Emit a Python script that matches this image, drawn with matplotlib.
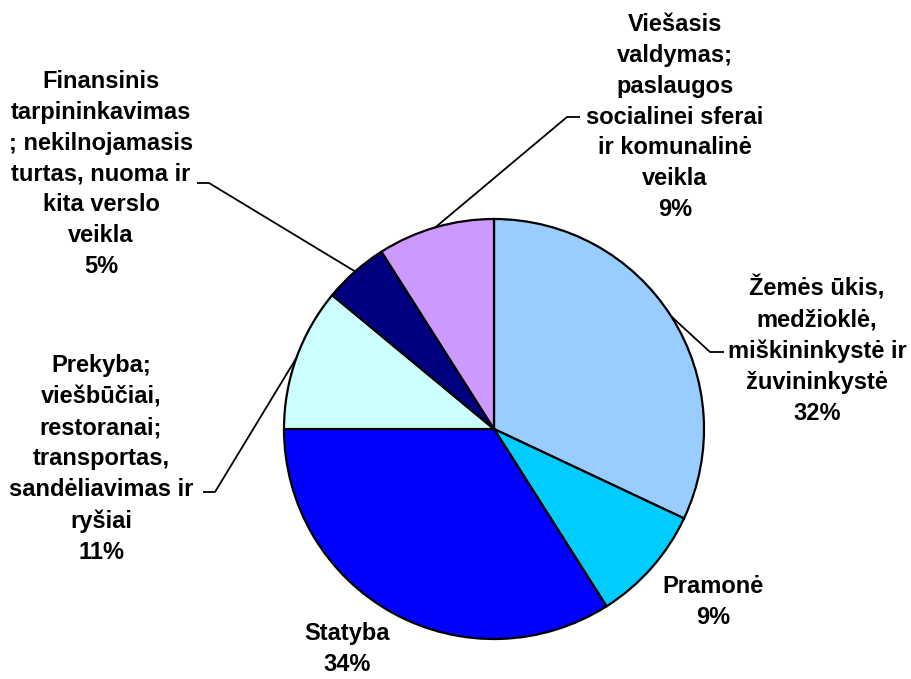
import numpy as np
import matplotlib.pyplot as plt

# Sector shares, clockwise from 12 o'clock
labels = [
    "Žemės ūkis,\nmedžioklė,\nmiškininkystė ir\nžuvininkystė",
    "Pramonė",
    "Statyba",
    "Prekyba;\nviešbūčiai,\nrestoranai;\ntransportas,\nsandėliavimas ir\nryšiai",
    "Finansinis\ntarpininkavimas\n; nekilnojamasis\nturtas, nuoma ir\nkita verslo\nveikla",
    "Viešasis\nvaldymas;\npaslaugos\nsocialinei sferai\nir komunalinė\nveikla",
]
values = [32, 9, 34, 11, 5, 9]
colors = ["#99CCFF", "#00CCFF", "#0000FF", "#CCFFFF", "#000080", "#CC99FF"]

W, H = 911, 679
cx, cy, R = 494, 429, 210  # pie centre and radius in pixels


def px(x, y):
    return (x - cx) / R, (cy - y) / R


fig = plt.figure(figsize=(W / 100, H / 100), dpi=100)
ax = fig.add_axes([0, 0, 1, 1])
ax.pie(values, colors=colors, startangle=90, counterclock=False, radius=1,
       wedgeprops=dict(edgecolor="black", linewidth=1.6))
ax.set_xlim(-cx / R, (W - cx) / R)
ax.set_ylim(-(H - cy) / R, cy / R)
ax.set_aspect("auto")
ax.axis("off")

# label centres and leader elbows (pixels); None = no leader line
label_pos = [(817, 350), (713, 602), (347, 649), (101, 459), (101, 174), (675, 117)]
elbows = [((710, 352), (724, 352)), None, None,
          ((215, 492), (203, 492)), ((209, 183), (197, 183)), ((567, 117), (580, 117))]

total = sum(values)
cum = 0
for lab, v, pos, elb in zip(labels, values, label_pos, elbows):
    mid = np.deg2rad(90 - 360 * (cum + v / 2) / total)
    cum += v
    tx, ty = px(*pos)
    ax.text(tx, ty, f"{lab}\n{v}%", ha="center", va="center", fontsize=17,
            fontweight="bold", family="Liberation Sans", linespacing=1.44,
            clip_on=False)
    if elb is not None:
        (x1, y1), (x2, y2) = px(*elb[0]), px(*elb[1])
        ax.plot([np.cos(mid), x1, x2], [np.sin(mid), y1, y2], color="black",
                lw=1.3, solid_capstyle="butt", clip_on=False)

fig.savefig("out.png", dpi=100)
